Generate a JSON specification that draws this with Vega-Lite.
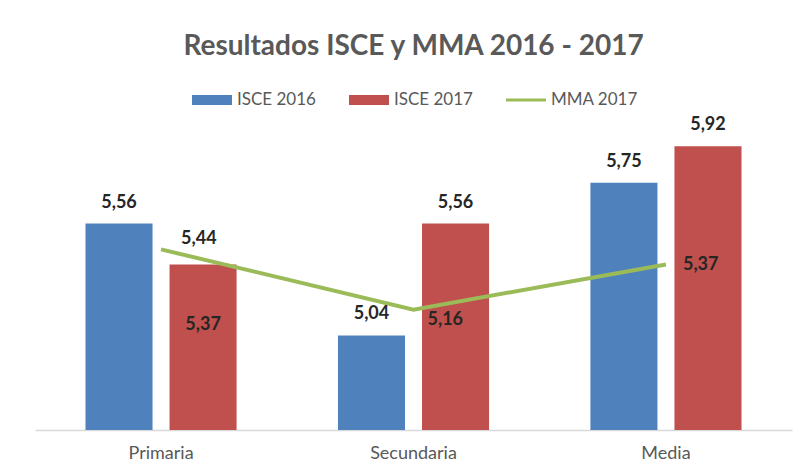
{
  "$schema": "https://vega.github.io/schema/vega-lite/v6.json",
  "width": 757,
  "height": 301,
  "autosize": {"type": "none"},
  "padding": {"left": 35, "top": 129, "right": 12, "bottom": 41},
  "background": "white",
  "title": {
    "text": "Resultados ISCE y MMA 2016 - 2017",
    "font": "Lato",
    "fontSize": 28,
    "fontWeight": "bold",
    "color": "#595959",
    "anchor": "middle",
    "frame": "group",
    "offset": 19
  },
  "data": {
    "values": [
      {"nivel": "Primaria", "serie": "ISCE 2016", "valor": 5.56},
      {"nivel": "Primaria", "serie": "ISCE 2017", "valor": 5.37},
      {"nivel": "Primaria", "serie": "MMA 2017", "valor": 5.44},
      {"nivel": "Secundaria", "serie": "ISCE 2016", "valor": 5.04},
      {"nivel": "Secundaria", "serie": "ISCE 2017", "valor": 5.56},
      {"nivel": "Secundaria", "serie": "MMA 2017", "valor": 5.16},
      {"nivel": "Media", "serie": "ISCE 2016", "valor": 5.75},
      {"nivel": "Media", "serie": "ISCE 2017", "valor": 5.92},
      {"nivel": "Media", "serie": "MMA 2017", "valor": 5.37}
    ]
  },
  "encoding": {
    "x": {
      "field": "nivel",
      "type": "nominal",
      "sort": ["Primaria", "Secundaria", "Media"],
      "scale": {"paddingInner": 0.4015, "paddingOuter": 0.2},
      "axis": {
        "title": null,
        "labelAngle": 0,
        "ticks": false,
        "domainColor": "#D9D9D9",
        "domainWidth": 1.5,
        "labelFont": "Lato",
        "labelFontSize": 18,
        "labelColor": "#595959",
        "labelPadding": 14
      }
    },
    "y": {
      "field": "valor",
      "type": "quantitative",
      "scale": {"domain": [4.6, 6.0], "zero": false, "nice": false, "clamp": true},
      "axis": null
    }
  },
  "layer": [
    {
      "transform": [{"filter": "datum.serie !== 'MMA 2017'"}],
      "mark": {"type": "bar"},
      "encoding": {
        "xOffset": {
          "field": "serie",
          "type": "nominal",
          "scale": {"domain": ["ISCE 2016", "ISCE 2017"], "paddingInner": 0.2024, "paddingOuter": 0}
        },
        "color": {
          "field": "serie",
          "type": "nominal",
          "scale": {
            "domain": ["ISCE 2016", "ISCE 2017", "MMA 2017"],
            "range": ["#4F81BD", "#C0504D", "#9BBB59"]
          },
          "legend": {
            "title": null,
            "orient": "none",
            "direction": "horizontal",
            "legendX": 157,
            "legendY": -49,
            "padding": 0,
            "symbolSize": 1600,
            "symbolStrokeWidth": 0,
            "symbolOpacity": 1,
            "labelFont": "Lato",
            "labelFontSize": 17,
            "labelColor": "#595959",
            "labelOffset": 5,
            "columnPadding": 33,
            "encode": {
              "symbols": {
                "update": {
                  "shape": {"signal": "datum.value === 'MMA 2017' ? 'M-1,-0.08H1V0.08H-1Z' : 'M-1,-0.25H1V0.25H-1Z'"}
                }
              }
            }
          }
        }
      }
    },
    {
      "transform": [{"filter": "datum.serie === 'MMA 2017'"}],
      "mark": {"type": "line", "color": "#9BBB59", "strokeWidth": 4},
      "encoding": {}
    },
    {
      "transform": [{"filter": "datum.serie !== 'MMA 2017' && !(datum.nivel === 'Primaria' && datum.serie === 'ISCE 2017')"}],
      "mark": {"type": "text", "font": "Lato", "fontSize": 18, "fontWeight": "bold", "color": "#262626", "baseline": "alphabetic", "dy": -16},
      "encoding": {
        "xOffset": {"field": "serie", "type": "nominal", "scale": {"domain": ["ISCE 2016", "ISCE 2017"], "paddingInner": 0.2024, "paddingOuter": 0}},
        "text": {"field": "valor", "type": "quantitative", "format": ".2f"}
      }
    },
    {
      "transform": [{"filter": "datum.nivel === 'Primaria' && datum.serie === 'ISCE 2017'"}],
      "mark": {"type": "text", "font": "Lato", "fontSize": 18, "fontWeight": "bold", "color": "#262626", "baseline": "alphabetic", "dy": 66},
      "encoding": {
        "xOffset": {"field": "serie", "type": "nominal", "scale": {"domain": ["ISCE 2016", "ISCE 2017"], "paddingInner": 0.2024, "paddingOuter": 0}},
        "text": {"field": "valor", "type": "quantitative", "format": ".2f"}
      }
    },
    {
      "transform": [{"filter": "datum.serie === 'MMA 2017' && datum.nivel === 'Primaria'"}],
      "mark": {"type": "text", "font": "Lato", "fontSize": 18, "fontWeight": "bold", "color": "#262626", "align": "left", "baseline": "middle", "dx": 20, "dy": -10},
      "encoding": {"text": {"field": "valor", "type": "quantitative", "format": ".2f"}}
    },
    {
      "transform": [{"filter": "datum.serie === 'MMA 2017' && datum.nivel === 'Secundaria'"}],
      "mark": {"type": "text", "font": "Lato", "fontSize": 18, "fontWeight": "bold", "color": "#262626", "align": "left", "baseline": "middle", "dx": 14, "dy": 10},
      "encoding": {"text": {"field": "valor", "type": "quantitative", "format": ".2f"}}
    },
    {
      "transform": [{"filter": "datum.serie === 'MMA 2017' && datum.nivel === 'Media'"}],
      "mark": {"type": "text", "font": "Lato", "fontSize": 18, "fontWeight": "bold", "color": "#262626", "align": "left", "baseline": "middle", "dx": 17, "dy": 1},
      "encoding": {"text": {"field": "valor", "type": "quantitative", "format": ".2f"}}
    }
  ],
  "config": {
    "view": {"stroke": null},
    "locale": {"number": {"decimal": ",", "thousands": ".", "grouping": [3], "currency": ["", " €"]}}
  }
}
